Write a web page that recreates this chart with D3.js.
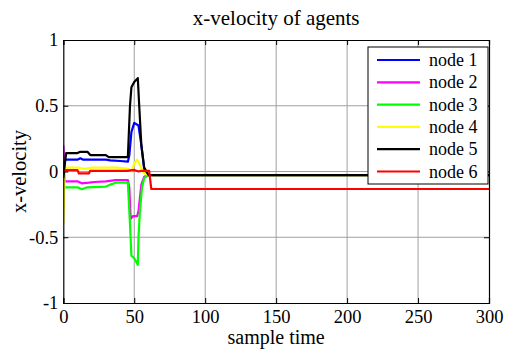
<!DOCTYPE html>
<html><head><meta charset="utf-8">
<script src="https://cdn.jsdelivr.net/npm/d3@7"></script>
<style>body{margin:0;background:#fff}svg{display:block}</style>
</head><body>
<svg id="c" width="508" height="350" font-family="Liberation Serif"></svg>
<script>
const xTicks = [0, 50, 100, 150, 200, 250, 300];
const yTicks = [-1, -0.5, 0, 0.5, 1];
const seriesNames = ["node 1", "node 2", "node 3", "node 4", "node 5", "node 6"];
const seriesColors = ["#0000ff", "#ff00ff", "#00ff00", "#ffff00", "#000000", "#ff0000"];

const node1T = [0, 1, 2, 10, 12, 14, 20, 30, 33, 40, 45.5, 46.5, 48, 50, 53, 55, 57, 60, 300];
const node1V = [0.0, 0.09, 0.09, 0.09, 0.1, 0.09, 0.09, 0.09, 0.085, 0.08, 0.075, 0.12, 0.3, 0.37, 0.35, 0.2, 0.02, -0.027, -0.027];
const node2T = [0, 0.5, 1, 10, 13, 18, 22, 30, 37, 45.5, 46.5, 47.5, 49, 52, 53, 55, 57, 60, 300];
const node2V = [0.2, 0.1, -0.075, -0.075, -0.09, -0.085, -0.08, -0.075, -0.065, -0.065, -0.12, -0.36, -0.34, -0.34, -0.3, -0.1, -0.04, -0.027, -0.027];
const node3T = [0, 1, 10, 13, 17, 30, 33, 37, 45.5, 47, 48, 50, 52.5, 53, 54, 55.5, 57, 60, 300];
const node3V = [-0.1, -0.12, -0.12, -0.135, -0.12, -0.115, -0.1, -0.085, -0.085, -0.4, -0.64, -0.66, -0.71, -0.5, -0.3, -0.12, -0.05, -0.027, -0.027];
const node4T = [0, 1, 2, 10, 15, 20, 38, 46, 48, 50, 52, 54, 56, 58, 60, 300];
const node4V = [-0.4, 0.0, 0.03, 0.03, 0.02, 0.03, 0.03, 0.02, 0.0, 0.06, 0.09, 0.05, 0.0, -0.02, -0.027, -0.027];
const node5T = [0, 1, 2, 10, 12, 17, 19, 30, 32, 45.5, 47, 48, 50, 52.5, 53.5, 55, 57, 60, 300];
const node5V = [-0.05, 0.05, 0.14, 0.14, 0.15, 0.15, 0.125, 0.125, 0.11, 0.11, 0.5, 0.64, 0.68, 0.71, 0.5, 0.2, 0.03, -0.027, -0.027];
const node6T = [0, 2, 10, 11, 18, 19, 45, 50, 53, 55, 60.5, 62, 300];
const node6V = [0.0, 0.01, 0.01, -0.015, -0.015, 0.005, 0.005, 0.012, 0.0, 0.005, 0.005, -0.133, -0.133];

const seriesT = [node1T, node2T, node3T, node4T, node5T, node6T];
const seriesV = [node1V, node2V, node3V, node4V, node5V, node6V];

const FONT = "Liberation Serif";
const svg = d3.select("#c");
const L = 63.3, R = 489, T = 40, B = 303;
const x = d3.scaleLinear().domain([0, 300]).range([L, R]);
const y = d3.scaleLinear().domain([-1, 1]).range([B, T]);

svg.append("text").attr("x", (L + R) / 2).attr("y", 25).attr("text-anchor", "middle")
  .attr("font-family", FONT).attr("font-size", 21).text("x-velocity of agents");

// grid
const g = svg.append("g");
g.selectAll(".gx").data(xTicks.slice(1, -1)).enter().append("line")
  .attr("x1", d => x(d)).attr("x2", d => x(d)).attr("y1", T).attr("y2", B)
  .attr("stroke", "#a0a0a0").attr("stroke-width", 1);
g.selectAll(".gy").data(yTicks.slice(1, -1)).enter().append("line")
  .attr("y1", d => y(d)).attr("y2", d => y(d)).attr("x1", L).attr("x2", R)
  .attr("stroke", "#a0a0a0").attr("stroke-width", 1);

svg.append("defs").append("clipPath").attr("id", "clip").append("rect")
  .attr("x", L).attr("y", T).attr("width", R - L).attr("height", B - T);

const line = d3.line().x(d => x(d[0])).y(d => y(d[1]));
const lines = svg.append("g").attr("clip-path", "url(#clip)");
seriesT.forEach((ts, i) => {
  const pts = ts.map((t, k) => [t, seriesV[i][k]]);
  lines.append("path").datum(pts).attr("d", line).attr("fill", "none")
    .attr("stroke", seriesColors[i]).attr("stroke-width", 2.2).attr("stroke-linejoin", "round");
});

// axes
const fmt = d => d === 0 ? "0" : String(d);
const ax = svg.append("g").attr("transform", `translate(0,${B})`)
  .call(d3.axisBottom(x).tickValues(xTicks).tickSize(-5).tickPadding(7).tickFormat(fmt));
const ay = svg.append("g").attr("transform", `translate(${L},0)`)
  .call(d3.axisLeft(y).tickValues(yTicks).tickSize(-5).tickPadding(5).tickFormat(fmt));
const at = svg.append("g").attr("transform", `translate(0,${T})`)
  .call(d3.axisTop(x).tickValues(xTicks).tickSize(-5).tickFormat(""));
const ar = svg.append("g").attr("transform", `translate(${R},0)`)
  .call(d3.axisRight(y).tickValues(yTicks).tickSize(-5).tickFormat(""));
[ax, ay, at, ar].forEach(a => {
  a.attr("font-family", FONT).attr("font-size", 18.5);
  a.select(".domain").attr("stroke", "#000").attr("stroke-width", 1.2);
  a.selectAll(".tick line").attr("stroke", "#000");
  a.selectAll("text").attr("fill", "#000");
});

svg.append("text").attr("x", (L + R) / 2).attr("y", 344).attr("text-anchor", "middle")
  .attr("font-family", FONT).attr("font-size", 20).text("sample time");
svg.append("text").attr("transform", `translate(26,${(T + B) / 2}) rotate(-90)`)
  .attr("text-anchor", "middle").attr("font-family", FONT).attr("font-size", 20.5).text("x-velocity");

// legend
const lg = svg.append("g");
lg.append("rect").attr("x", 368).attr("y", 47).attr("width", 120).attr("height", 137)
  .attr("fill", "#fff").attr("stroke", "#000").attr("stroke-width", 1);
seriesNames.forEach((n, i) => {
  const yy = 60 + i * 22.3;
  lg.append("line").attr("x1", 377).attr("x2", 420).attr("y1", yy).attr("y2", yy)
    .attr("stroke", seriesColors[i]).attr("stroke-width", 2.2);
  lg.append("text").attr("x", 429).attr("y", yy + 6).attr("font-family", FONT)
    .attr("font-size", 18).text(n);
});
</script>
</body></html>
